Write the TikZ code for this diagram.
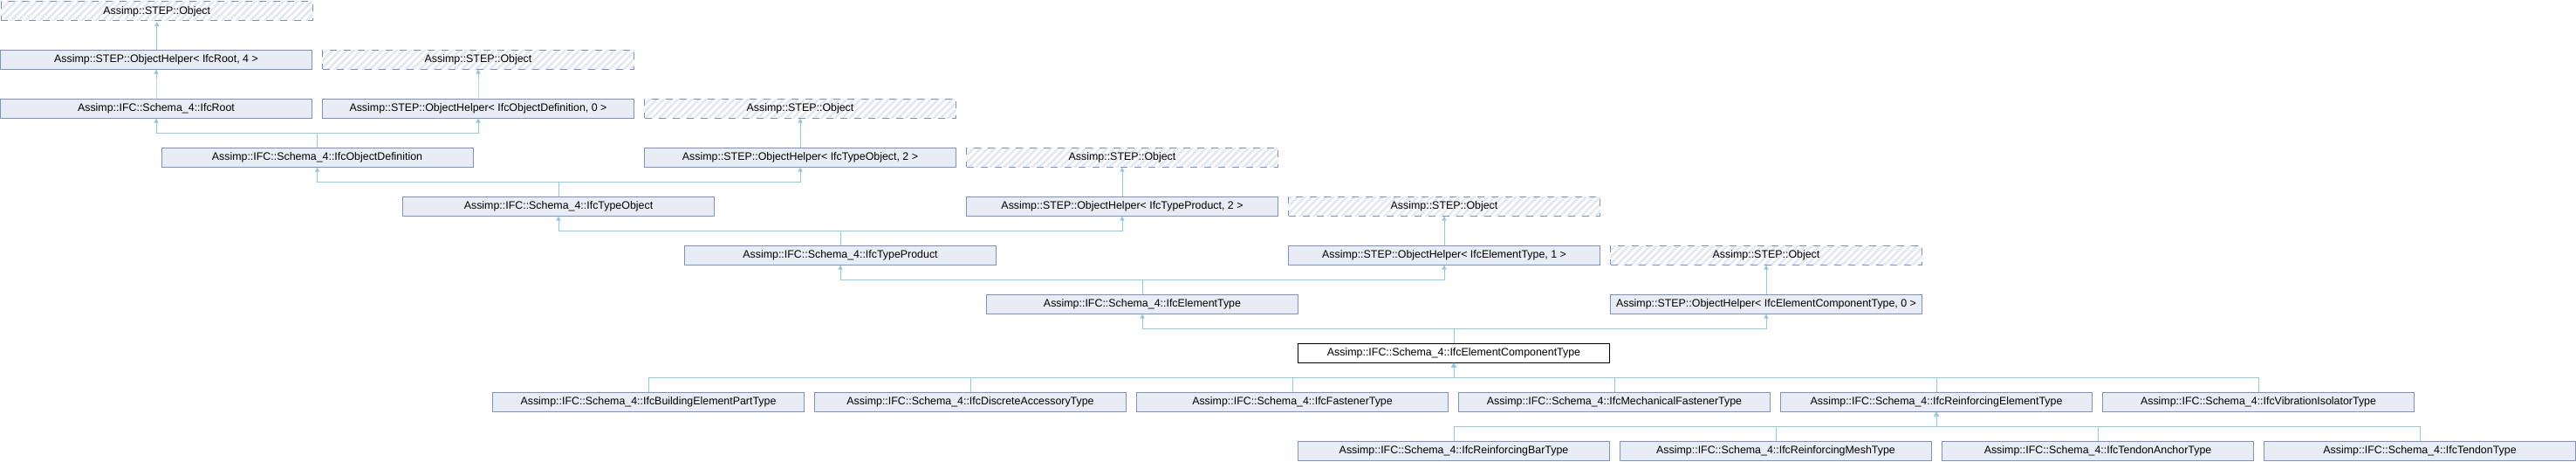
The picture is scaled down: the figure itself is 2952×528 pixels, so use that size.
\documentclass[tikz,border=0pt]{standalone}
\usepackage{fontspec}
\setmainfont{Liberation Sans}
\usetikzlibrary{arrows.meta, patterns.meta}
\definecolor{boxfill}{HTML}{E8ECF5}
\definecolor{boxline}{HTML}{7A92C5}
\definecolor{edgeblue}{HTML}{92C8E8}
\definecolor{hatch}{HTML}{E2E7F1}

\begin{document}
\begin{tikzpicture}[x=1pt, y=1pt,
    cls/.style={rectangle, anchor=north west, minimum width=357pt, minimum height=22pt,
        inner sep=0pt, line width=1pt, draw=boxline, fill=boxfill,
        font=\fontsize{12.4}{14}\selectfont},
    ext/.style={cls, fill=none, dash pattern=on 8pt off 8pt,
        pattern={Lines[angle=45, distance=5.7pt, line width=2.6pt]}, pattern color=hatch},
    cur/.style={cls, draw=black, fill=white},
    inh/.style={draw=edgeblue, line width=1pt, -{Triangle[width=5pt, length=5pt]}}]

        \useasboundingbox (0,0.5) rectangle (2952,-527.5);

        \def\obj{Assimp::STEP::Object}
        \def\ifc{Assimp::IFC::Schema\_4::}
        \def\helper{Assimp::STEP::ObjectHelper<}

        \node[ext] (objA) at (0,0) {\obj};

        \node[cls] (ohRoot) at (0,-56) {\helper{} IfcRoot, 4 >};
        \node[ext] (objB) at (369,-56) {\obj};

        \node[cls] (root) at (0,-112) {\ifc IfcRoot};
        \node[cls] (ohObjDef) at (369,-112) {\helper{} IfcObjectDefinition, 0 >};
        \node[ext] (objC) at (738,-112) {\obj};

        \node[cls] (objDef) at (184.5,-168) {\ifc IfcObjectDefinition};
        \node[cls] (ohTypeObj) at (738,-168) {\helper{} IfcTypeObject, 2 >};
        \node[ext] (objD) at (1107,-168) {\obj};

        \node[cls] (typeObj) at (461,-224) {\ifc IfcTypeObject};
        \node[cls] (ohTypeProd) at (1107,-224) {\helper{} IfcTypeProduct, 2 >};
        \node[ext] (objE) at (1476,-224) {\obj};

        \node[cls] (typeProd) at (784,-280) {\ifc IfcTypeProduct};
        \node[cls] (ohElemType) at (1476,-280) {\helper{} IfcElementType, 1 >};
        \node[ext] (objF) at (1845,-280) {\obj};

        \node[cls] (elemType) at (1130,-336) {\ifc IfcElementType};
        \node[cls] (ohECT) at (1845,-336) {\helper{} IfcElementComponentType, 0 >};

        \node[cur] (ect) at (1487,-392) {\ifc IfcElementComponentType};

        \node[cls] (building) at (564,-448) {\ifc IfcBuildingElementPartType};
        \node[cls] (discrete) at (933,-448) {\ifc IfcDiscreteAccessoryType};
        \node[cls] (fastener) at (1302,-448) {\ifc IfcFastenerType};
        \node[cls] (mechFast) at (1671,-448) {\ifc IfcMechanicalFastenerType};
        \node[cls] (reinfElem) at (2040,-448) {\ifc IfcReinforcingElementType};
        \node[cls] (vibIso) at (2409,-448) {\ifc IfcVibrationIsolatorType};

        \node[cls] (bar) at (1487,-504) {\ifc IfcReinforcingBarType};
        \node[cls] (mesh) at (1856,-504) {\ifc IfcReinforcingMeshType};
        \node[cls] (anchor) at (2225,-504) {\ifc IfcTendonAnchorType};
        \node[cls] (tendon) at (2594,-504) {\ifc IfcTendonType};

        \foreach \c/\p in {ohRoot/objA, root/ohRoot, ohObjDef/objB, objDef/root, objDef/ohObjDef,
                ohTypeObj/objC, typeObj/objDef, typeObj/ohTypeObj, ohTypeProd/objD,
                typeProd/typeObj, typeProd/ohTypeProd, ohElemType/objE, elemType/typeProd,
                elemType/ohElemType, ohECT/objF, ect/elemType, ect/ohECT,
                building/ect, discrete/ect, fastener/ect, mechFast/ect, reinfElem/ect, vibIso/ect,
                bar/reinfElem, mesh/reinfElem, anchor/reinfElem, tendon/reinfElem}
            \draw[inh] (\c.north) -- ++(0,16.5) -| (\p.south);
        \end{tikzpicture}
\end{document}
